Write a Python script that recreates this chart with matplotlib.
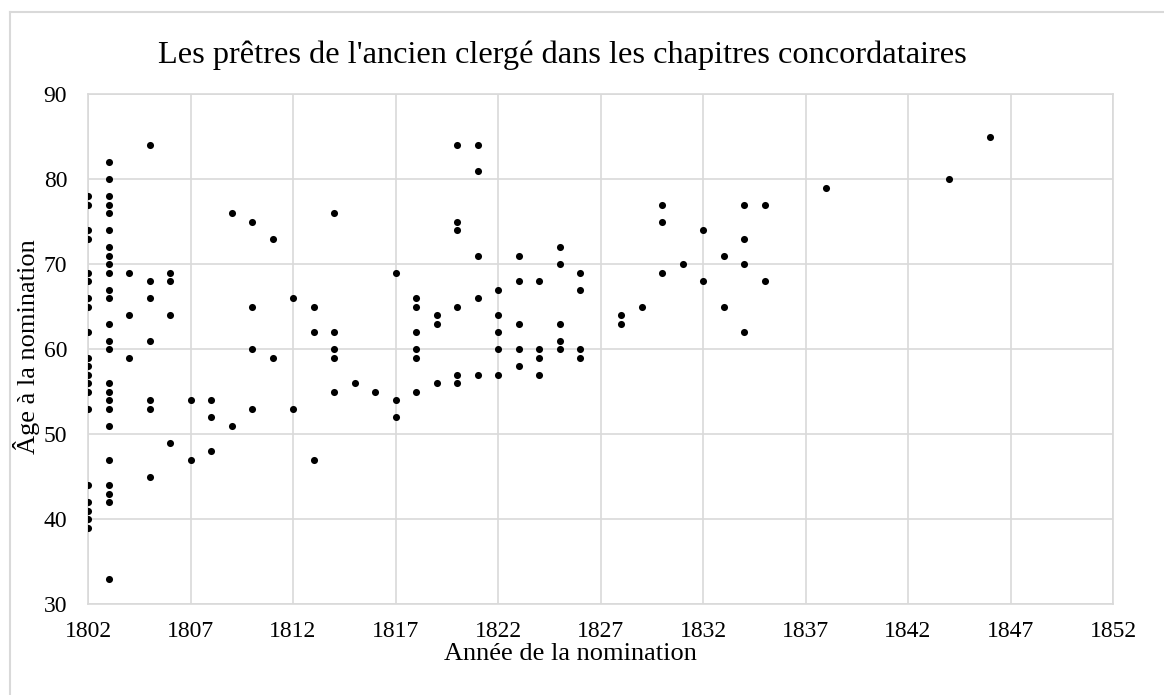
import matplotlib
matplotlib.use("Agg")
import matplotlib.pyplot as plt
from matplotlib.lines import Line2D

plt.rcParams['font.family'] = ['Liberation Serif', 'DejaVu Serif']

# ages at nomination, grouped by year of nomination
ages_1802 = [78, 77, 74, 73, 69, 68, 66, 65, 62, 59, 58, 57, 56, 55, 53, 44, 42, 41, 40, 39]
ages_1803 = [82, 80, 78, 77, 76, 74, 72, 71, 70, 69, 67, 66, 63, 61, 60, 56, 55, 54, 53, 51, 47, 44, 43, 42, 33]
ages_1804 = [69, 64, 59]
ages_1805 = [84, 68, 66, 61, 54, 53, 45]
ages_1806 = [69, 68, 64, 49]
ages_1807 = [54, 47]
ages_1808 = [54, 52, 48]
ages_1809 = [76, 51]
ages_1810 = [75, 65, 60, 53]
ages_1811 = [73, 59]
ages_1812 = [66, 53]
ages_1813 = [65, 62, 47]
ages_1814 = [76, 62, 60, 59, 55]
ages_1815 = [56]
ages_1816 = [55]
ages_1817 = [69, 54, 52]
ages_1818 = [66, 65, 62, 60, 59, 55]
ages_1819 = [64, 63, 56]
ages_1820 = [84, 75, 74, 65, 57, 56]
ages_1821 = [84, 81, 71, 66, 57]
ages_1822 = [67, 64, 62, 60, 57]
ages_1823 = [71, 68, 63, 60, 58]
ages_1824 = [68, 60, 59, 57]
ages_1825 = [72, 70, 63, 61, 60]
ages_1826 = [69, 67, 60, 59]
ages_1828 = [64, 63]
ages_1829 = [65]
ages_1830 = [77, 75, 69]
ages_1831 = [70]
ages_1832 = [74, 68]
ages_1833 = [71, 65]
ages_1834 = [77, 73, 70, 62]
ages_1835 = [77, 68]
ages_1838 = [79]
ages_1844 = [80]
ages_1846 = [85]

groups = {
    1802: ages_1802, 1803: ages_1803, 1804: ages_1804, 1805: ages_1805,
    1806: ages_1806, 1807: ages_1807, 1808: ages_1808, 1809: ages_1809,
    1810: ages_1810, 1811: ages_1811, 1812: ages_1812, 1813: ages_1813,
    1814: ages_1814, 1815: ages_1815, 1816: ages_1816, 1817: ages_1817,
    1818: ages_1818, 1819: ages_1819, 1820: ages_1820, 1821: ages_1821,
    1822: ages_1822, 1823: ages_1823, 1824: ages_1824, 1825: ages_1825,
    1826: ages_1826, 1828: ages_1828, 1829: ages_1829, 1830: ages_1830,
    1831: ages_1831, 1832: ages_1832, 1833: ages_1833, 1834: ages_1834,
    1835: ages_1835, 1838: ages_1838, 1844: ages_1844, 1846: ages_1846,
}
years = [y for y, a in groups.items() for _ in a]
ages = [v for a in groups.values() for v in a]

title = "Les prêtres de l'ancien clergé dans les chapitres concordataires"
xlabel = "Année de la nomination"
ylabel = "Âge à la nomination"
xticks = list(range(1802, 1853, 5))
yticks = list(range(30, 91, 10))

W, H = 1164, 695
fig = plt.figure(figsize=(W/100, H/100), dpi=100)
ax = fig.add_axes([88/W, 1 - 604/H, (1113-88)/W, (604-94)/H])

ax.scatter(years, ages, s=26, color='black', zorder=3, linewidths=0)

ax.set_xlim(1802, 1852)
ax.set_ylim(30, 90)
ax.set_xticks(xticks)
ax.set_yticks(yticks)
ax.grid(True, color='#d9d9d9', linewidth=1.2)
ax.set_axisbelow(True)
for s in ax.spines.values():
    s.set_color('#d9d9d9')
    s.set_linewidth(1.2)
ax.tick_params(length=0, labelsize=17, colors='black')
ax.tick_params(axis='x', pad=12)
ax.tick_params(axis='y', pad=15)

fig.text(562/W, 1 - 55/H, title, ha='center', va='center', fontsize=23.3)
fig.text(570/W, 1 - 654/H, xlabel, ha='center', va='center', fontsize=19)
fig.text(27/W, 1 - 347/H, ylabel, ha='center', va='center', fontsize=19, rotation=90)

fig.add_artist(Line2D([10/W, 10/W], [0, 1 - 12/H], color='#d9d9d9', linewidth=1.5, transform=fig.transFigure))
fig.add_artist(Line2D([10/W, 1], [1 - 12/H, 1 - 12/H], color='#d9d9d9', linewidth=1.5, transform=fig.transFigure))

fig.savefig('out.png', dpi=100)
